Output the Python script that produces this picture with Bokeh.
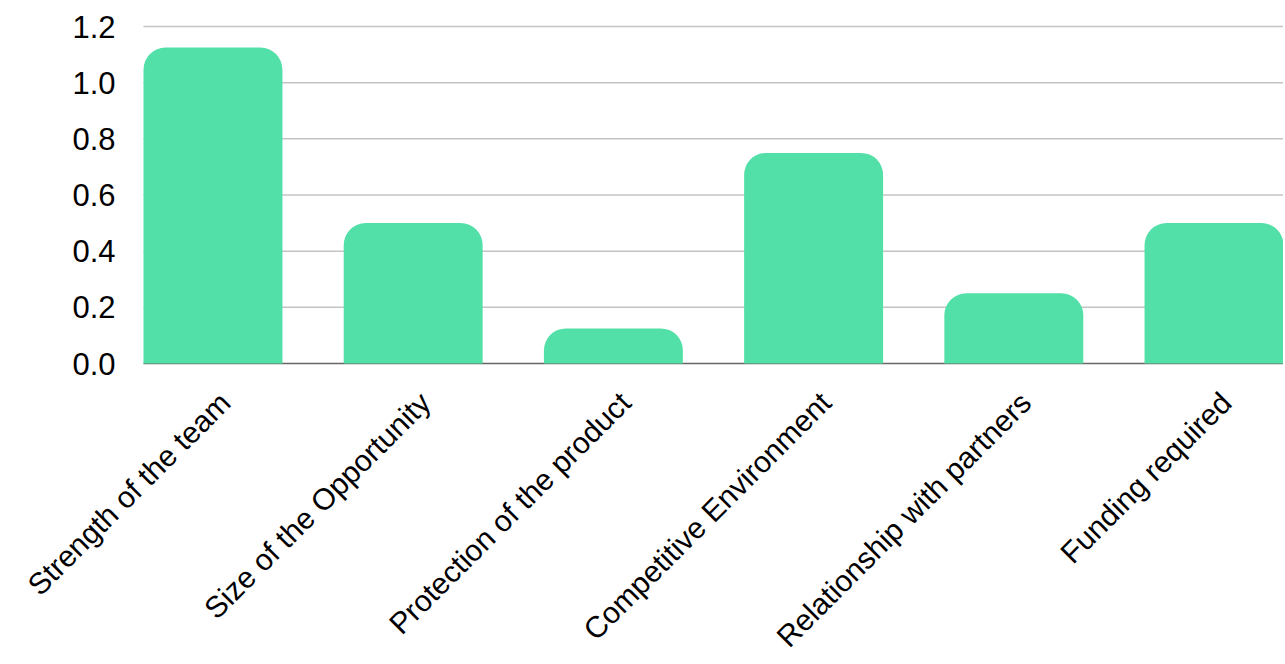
import numpy as np
from bokeh.plotting import figure
from bokeh.models import Range1d, ColumnDataSource, LabelSet
from bokeh.core.properties import value
from bokeh.embed import file_html
from bokeh.resources import INLINE

categories = ["Strength of the team", "Size of the Opportunity", "Protection of the product",
              "Competitive Environment", "Relationship with partners", "Funding required"]
values = [1.125, 0.5, 0.125, 0.75, 0.25, 0.5]
y_ticks = [0.0, 0.2, 0.4, 0.6, 0.8, 1.0, 1.2]
y_tick_labels = [f"{t:.1f}" for t in y_ticks]

BAR_W = 0.694
FONT = value("Liberation Sans")
Y_MAX = 1.2
W, H = 1283, 664
LEFT_PX, TOP_PX = 143, 26   # where the value area starts
PLOT_PX = 337               # pixel height of the 0..1.2 value area

n = len(categories)
x_lo, x_hi = -BAR_W / 2, n - 1 + BAR_W / 2
px_x = (W - LEFT_PX) / (x_hi - x_lo)
px_y = PLOT_PX / Y_MAX

xs = list(range(n))
src = ColumnDataSource(dict(x=xs, top=values, base=[0.0] * n, name=categories))
ysrc = ColumnDataSource(dict(x0=[x_lo] * len(y_ticks), x1=[x_hi] * len(y_ticks),
                             y=y_ticks, t=y_tick_labels))
gsrc = ColumnDataSource(dict(x0=[x_lo] * (len(y_ticks) - 1), x1=[x_hi] * (len(y_ticks) - 1),
                             y=y_ticks[1:]))

p = figure(width=W, height=H, output_backend="svg", toolbar_location=None,
           x_range=Range1d(x_lo - LEFT_PX / px_x, x_hi),
           y_range=Range1d(-(H - TOP_PX - PLOT_PX) / px_y, Y_MAX + TOP_PX / px_y),
           min_border=0)
p.outline_line_color = None
p.background_fill_color = "white"
p.xaxis.visible = False
p.yaxis.visible = False
p.xgrid.visible = False
p.ygrid.visible = False

# horizontal grid lines
p.segment(x0="x0", x1="x1", y0="y", y1="y", source=gsrc, line_color="#c4c4c4", line_width=1.5)
# baseline
p.segment(x0=[x_lo], x1=[x_hi], y0=[y_ticks[0]], y1=[y_ticks[0]], line_color="#666666", line_width=1.5)

p.vbar(x="x", top="top", bottom=0, width=BAR_W, source=src,
       fill_color="#52E0A8", line_color=None, border_radius=(22, 22, 0, 0))

ylabels = LabelSet(x="x0", y="y", text="t", source=ysrc,
                   text_align="right", text_baseline="middle", x_offset=-28,
                   text_font=FONT, text_font_size="31px", text_color="#000000")
p.add_layout(ylabels)

labels = LabelSet(x="x", y="base", text="name", source=src,
                  angle=np.pi / 4, text_align="right", text_baseline="middle",
                  x_offset=12, y_offset=-34,
                  text_font=FONT, text_font_size="30px", text_color="#000000")
p.add_layout(labels)

open("out.html", "w").write(file_html(p, INLINE))
